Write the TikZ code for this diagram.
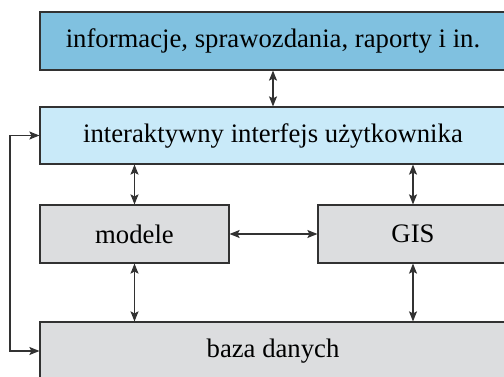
\documentclass[tikz,border=0pt]{standalone}
\usepackage{fontspec}
\setmainfont{Liberation Serif}
\usetikzlibrary{arrows.meta}

\definecolor{infoblue}{RGB}{128,193,224}
\definecolor{uiblue}{RGB}{201,234,249}
\definecolor{boxgray}{RGB}{220,221,223}
\definecolor{edgegray}{RGB}{50,50,50}

\tikzset{
  blok/.style={draw=edgegray, line width=1.2pt, rectangle, inner sep=0pt,
    minimum height=58pt, font=\fontsize{26.7}{32}\selectfont},
  strz/.style={{Stealth[length=10pt,width=8pt,inset=2pt]}-{Stealth[length=10pt,width=8pt,inset=2pt]},
    draw=edgegray, line width=1.2pt}
}

\begin{document}
\begin{tikzpicture}[x=1pt,y=-1pt]
\useasboundingbox (0,0) rectangle (504,377);
\clip (0,0) rectangle (504,377);
\node[blok, fill=infoblue, minimum width=466pt] (info) at (273,41) {informacje, sprawozdania, raporty i in.};
\node[blok, fill=uiblue, minimum width=466pt, minimum height=57pt] (ui) at (273,135.5) {interaktywny interfejs użytkownika};
\node[blok, fill=boxgray, minimum width=189pt] (modele) at (134.5,234) {modele};
\node[blok, fill=boxgray, minimum width=190pt] (gis) at (413,234) {GIS};
\node[blok, fill=boxgray, minimum width=466pt] (baza) at (273,351) {baza danych};
\coordinate (petla) at (10,244);
\draw[strz] (info.south) -- (ui.north);
\draw[strz] (ui.south -| modele) -- (modele.north);
\draw[strz] (ui.south -| gis) -- (gis.north);
\draw[strz] (modele.east) -- (gis.west);
\draw[strz] (modele.south) -- (modele.south |- baza.north);
\draw[strz] (gis.south) -- (gis.south |- baza.north);
\draw[strz] (ui.west) -| (petla) |- (baza.west);
\end{tikzpicture}
\end{document}
